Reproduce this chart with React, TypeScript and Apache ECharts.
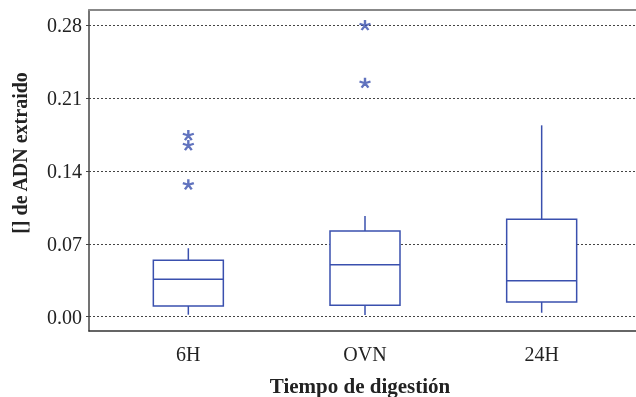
import React, { useEffect, useRef } from "react";
import * as echarts from "echarts";

const categories = ["6H", "OVN", "24H"];
const whiskerLow = [0.0019, 0.0016, 0.0038];
const quartile1 = [0.0103, 0.0109, 0.0141];
const medians = [0.0359, 0.0499, 0.0346];
const quartile3 = [0.0541, 0.0823, 0.0935];
const whiskerHigh = [0.0657, 0.0967, 0.1837];
const outlierCategory = ["6H", "6H", "6H", "OVN", "OVN"];
const outlierValues = [0.1271, 0.1648, 0.1744, 0.2246, 0.28];
const yTicks = [0, 0.07, 0.14, 0.21, 0.28];

const Y_MIN = -0.01373;
const Y_MAX = 0.2944;
const BLUE = "#3A50AE";
const FONT = "'Liberation Serif', 'Times New Roman', serif";

const ASTERISK =
  "path://M0 0L0 -5M0 0L4.76 -1.55M0 0L2.94 4.05M0 0L-2.94 4.05M0 0L-4.76 -1.55";

export default function App() {
  const ref = useRef<HTMLDivElement>(null);
  useEffect(() => {
    if (!ref.current) return;
    const chart = echarts.init(ref.current, undefined, { renderer: "svg" });
    const boxData = categories.map((c, i) => [
      i,
      whiskerLow[i],
      quartile1[i],
      medians[i],
      quartile3[i],
      whiskerHigh[i],
    ]);
    const outlierData = outlierValues.map((v, i) => [
      categories.indexOf(outlierCategory[i]),
      v,
    ]);
    chart.setOption({
      animation: false,
      textStyle: { fontFamily: FONT },
      grid: [
        { left: 89, right: 0, top: 10, bottom: 66 },
        { left: 100, right: 6, top: 10, bottom: 66 },
      ],
      xAxis: [
        {
          type: "value",
          gridIndex: 0,
          min: 0,
          max: 1,
          position: "bottom",
          axisLine: {
            show: true,
            onZero: false,
            lineStyle: { color: "#333", width: 1.5 },
          },
          axisTick: { show: false },
          axisLabel: { show: false },
          splitLine: { show: false },
        },
        {
          type: "category",
          gridIndex: 1,
          data: categories,
          boundaryGap: true,
          axisLine: { show: false, onZero: false },
          axisTick: { show: false },
          axisLabel: {
            show: true,
            fontSize: 20,
            color: "#222",
            fontFamily: FONT,
            margin: 13,
          },
          splitLine: { show: false },
        },
        {
          type: "value",
          gridIndex: 0,
          min: 0,
          max: 1,
          position: "top",
          axisLine: {
            show: true,
            onZero: false,
            lineStyle: { color: "#888", width: 2 },
          },
          axisTick: { show: false },
          axisLabel: { show: false },
          splitLine: { show: false },
        },
      ],
      yAxis: [
        {
          type: "value",
          gridIndex: 0,
          min: Y_MIN,
          max: Y_MAX,
          axisLine: {
            show: true,
            onZero: false,
            lineStyle: { color: "#444", width: 1.5 },
          },
          axisTick: {
            show: true,
            length: 3,
            customValues: yTicks,
            lineStyle: { color: "#444" },
          },
          axisLabel: {
            show: true,
            customValues: yTicks,
            formatter: (v: number) => v.toFixed(2),
            fontSize: 20,
            color: "#222",
            fontFamily: FONT,
            margin: 7,
          },
          splitLine: {
            show: true,
            lineStyle: { color: "#444", type: [2, 2], width: 1 },
          },
        },
        {
          type: "value",
          gridIndex: 1,
          min: Y_MIN,
          max: Y_MAX,
          show: false,
          splitLine: { show: false },
        },
      ],
      series: [
        {
          type: "custom",
          xAxisIndex: 1,
          yAxisIndex: 1,
          encode: { x: 0, y: [1, 2, 3, 4, 5] },
          data: boxData,
          renderItem: (params: any, api: any) => {
            const x = api.value(0);
            const pMin = api.coord([x, api.value(1)]);
            const pQ1 = api.coord([x, api.value(2)]);
            const pMed = api.coord([x, api.value(3)]);
            const pQ3 = api.coord([x, api.value(4)]);
            const pMax = api.coord([x, api.value(5)]);
            const half = 35;
            const style = { stroke: BLUE, lineWidth: 1.5, fill: "none" };
            return {
              type: "group",
              children: [
                {
                  type: "line",
                  shape: { x1: pMin[0], y1: pMin[1], x2: pQ1[0], y2: pQ1[1] },
                  style,
                },
                {
                  type: "line",
                  shape: { x1: pQ3[0], y1: pQ3[1], x2: pMax[0], y2: pMax[1] },
                  style,
                },
                {
                  type: "rect",
                  shape: {
                    x: pQ3[0] - half,
                    y: pQ3[1],
                    width: half * 2,
                    height: pQ1[1] - pQ3[1],
                  },
                  style: { stroke: BLUE, lineWidth: 1.5, fill: "#fff" },
                },
                {
                  type: "line",
                  shape: {
                    x1: pMed[0] - half,
                    y1: pMed[1],
                    x2: pMed[0] + half,
                    y2: pMed[1],
                  },
                  style,
                },
              ],
            };
          },
          z: 3,
        },
        {
          type: "scatter",
          xAxisIndex: 1,
          yAxisIndex: 1,
          data: outlierData,
          symbol: ASTERISK,
          symbolSize: [11, 10],
          itemStyle: { color: "transparent", borderColor: BLUE, borderWidth: 2.3 },
          z: 4,
        },
      ],
      graphic: [
        {
          type: "text",
          x: 20,
          y: 153,
          rotation: Math.PI / 2,
          style: {
            text: "[] de ADN extraido",
            fontFamily: FONT,
            fontWeight: "bold",
            fontSize: 20,
            fill: "#222",
            textAlign: "center",
            textVerticalAlign: "middle",
          },
        },
        {
          type: "text",
          x: 360,
          y: 386,
          style: {
            text: "Tiempo de digestión",
            fontFamily: FONT,
            fontWeight: "bold",
            fontSize: 21,
            fill: "#222",
            textAlign: "center",
            textVerticalAlign: "middle",
          },
        },
      ],
    });
    return () => chart.dispose();
  }, []);
  return (
    <div
      ref={ref}
      style={{ position: "fixed", left: 0, top: 0, width: 636, height: 397 }}
    />
  );
}
